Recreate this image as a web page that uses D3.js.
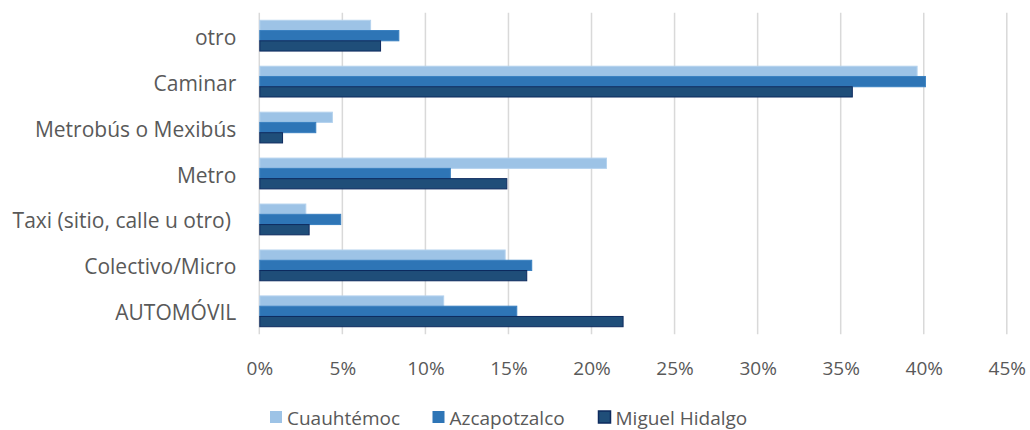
<!DOCTYPE html>
<html>
<head>
<meta charset="utf-8">
<script src="https://cdn.jsdelivr.net/npm/d3@7"></script>
<style>
  html, body { margin: 0; padding: 0; background: #ffffff; }
  svg { display: block; }
  text { font-family: "Open Sans", sans-serif; fill: #595959; }
</style>
</head>
<body>
<svg id="chart" width="1030" height="430"></svg>
<script>
// Modes of transport, listed top to bottom
const categories = [
  "otro",
  "Caminar",
  "Metrobús o Mexibús",
  "Metro",
  "Taxi (sitio, calle u otro) ",
  "Colectivo/Micro",
  "AUTOMÓVIL"
];

const seriesNames = ["Cuauhtémoc", "Azcapotzalco", "Miguel Hidalgo"];

// Share of trips per mode (%)
const cuauhtemoc   = [6.7, 39.6, 4.4, 20.9, 2.8, 14.8, 11.1];
const azcapotzalco = [8.4, 40.1, 3.4, 11.5, 4.9, 16.4, 15.5];
const miguelHidalgo = [7.3, 35.7, 1.4, 14.9, 3.0, 16.1, 21.9];

const tickValues = [0, 5, 10, 15, 20, 25, 30, 35, 40, 45];

const seriesValues = [cuauhtemoc, azcapotzalco, miguelHidalgo];
const fills   = ["#9dc3e6", "#2e75b6", "#1f4e79"];
const strokes = ["#b4d2ee", "#3a80c0", "#0d2a5e"];

const svg = d3.select("#chart");

const plot = { left: 259.3, right: 1006.8, top: 12.7, bottom: 334.3 };

const x = d3.scaleLinear().domain([0, 45]).range([plot.left, plot.right]);

const y = d3.scaleBand()
  .domain(categories)
  .range([plot.top, plot.bottom])
  .paddingInner(0.33)
  .paddingOuter(0.165);

const ySub = d3.scaleBand()
  .domain(seriesNames)
  .range([0, y.bandwidth()]);

// Vertical gridlines
svg.append("g")
  .selectAll("line")
  .data(tickValues)
  .join("line")
  .attr("x1", d => x(d))
  .attr("x2", d => x(d))
  .attr("y1", plot.top)
  .attr("y2", plot.bottom)
  .attr("stroke", "#d9d9d9")
  .attr("stroke-width", 1.5);

// Bars
const rows = categories.map((c, i) => ({
  cat: c,
  vals: seriesNames.map((s, j) => ({ series: s, j, v: seriesValues[j][i] }))
}));

const groups = svg.append("g")
  .selectAll("g")
  .data(rows)
  .join("g")
  .attr("transform", d => `translate(0,${y(d.cat)})`);

groups.selectAll("rect")
  .data(d => d.vals)
  .join("rect")
  .attr("x", x(0) + 0.5)
  .attr("y", d => ySub(d.series))
  .attr("width", d => x(d.v) - x(0) - 0.5)
  .attr("height", ySub.bandwidth())
  .attr("fill", d => fills[d.j])
  .attr("stroke", d => strokes[d.j])
  .attr("stroke-width", 1);

// Category labels
svg.append("g")
  .selectAll("text")
  .data(categories)
  .join("text")
  .attr("x", plot.left - 23)
  .attr("y", d => y(d) + y.bandwidth() / 2 + 1)
  .attr("text-anchor", "end")
  .attr("dominant-baseline", "central")
  .style("white-space", "pre")
  .style("font-size", "21px")
  .text(d => d);

// Value axis labels
const axis = d3.axisBottom(x)
  .tickValues(tickValues)
  .tickFormat(d => d + "%")
  .tickSize(0)
  .tickPadding(0);

const axisG = svg.append("g")
  .attr("transform", `translate(0,${plot.bottom})`)
  .call(axis);
axisG.select(".domain").remove();
axisG.selectAll("text")
  .attr("dy", null)
  .attr("y", 34)
  .attr("dominant-baseline", "central")
  .style("font-size", "19px")
  .style("font-family", "\"Open Sans\", sans-serif")
  .attr("fill", "#595959");

// Legend
const legendX = [270, 432.5, 598.5];
const legend = svg.append("g")
  .selectAll("g")
  .data(seriesNames)
  .join("g")
  .attr("transform", (d, i) => `translate(${legendX[i]},411)`);

legend.append("rect")
  .attr("width", 12)
  .attr("height", 12)
  .attr("fill", (d, i) => fills[i])
  .attr("stroke", (d, i) => i === 2 ? strokes[i] : "none")
  .attr("stroke-width", 1.5);

legend.append("text")
  .attr("x", 17)
  .attr("y", 6.5)
  .attr("dominant-baseline", "central")
  .style("font-size", "19px")
  .text(d => d);
</script>
</body>
</html>
